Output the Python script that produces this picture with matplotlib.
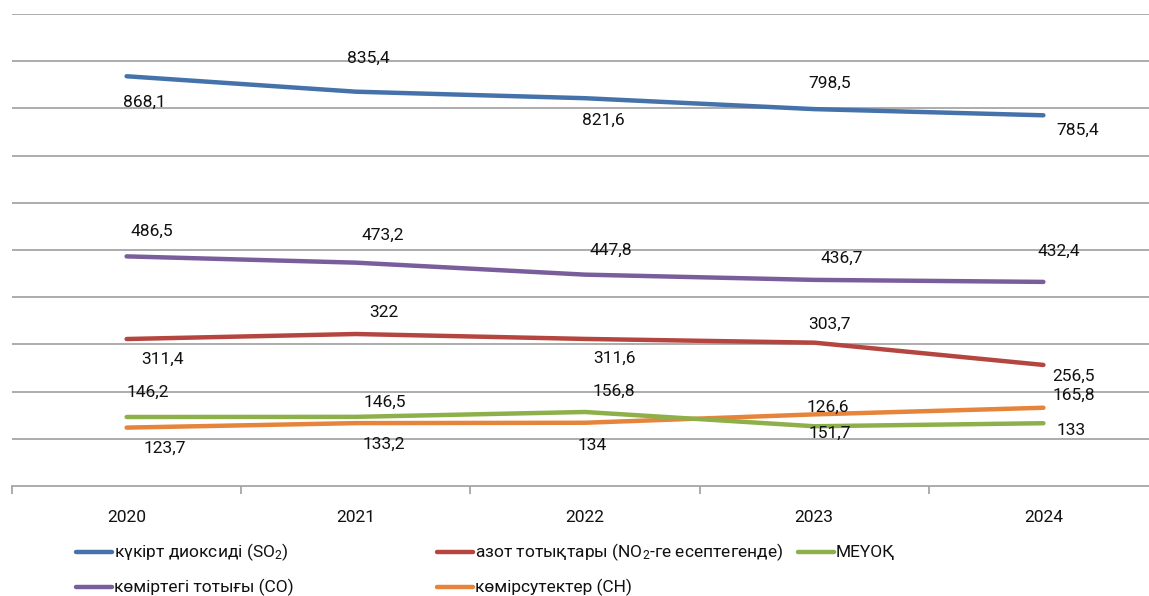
import matplotlib
matplotlib.use("Agg")
import matplotlib.pyplot as plt
from matplotlib.lines import Line2D

plt.rcParams['font.family'] = ['Roboto', 'DejaVu Sans']
plt.rcParams['mathtext.fontset'] = 'custom'
plt.rcParams['mathtext.rm'] = 'Roboto'
plt.rcParams['mathtext.it'] = 'Roboto'
plt.rcParams['mathtext.default'] = 'regular'

years = ["2020", "2021", "2022", "2023", "2024"]
so2 = [868.1, 835.4, 821.6, 798.5, 785.4]
co = [486.5, 473.2, 447.8, 436.7, 432.4]
no2 = [311.4, 322, 311.6, 303.7, 256.5]
meuok = [146.2, 146.5, 156.8, 126.6, 133]
ch = [123.7, 133.2, 134, 151.7, 165.8]

names = ["күкірт диоксиді (SO$_2$)", "көміртегі тотығы (CO)",
         "азот тотықтары (NO$_2$-ге есептегенде)", "көмірсутектер (CH)", "МЕҮОҚ"]
colors = ["#4572AA", "#7A5E9C", "#B4463F", "#E5843A", "#8DB04B"]
# legend slots (pixel x of handle start, pixel y of row)
leg_pos = [(76, 552), (76, 587), (437, 552), (437, 587), (798, 552)]

# label offsets in pixels (dx, dy) per point
offs = {
    "so2": [(18, -26), (13, 33), (18, -22), (15, 26), (34, -15)],
    "co": [(25, 25), (27, 27), (26, 24), (28, 22), (15, 31)],
    "no2": [(36, -20), (28, 22), (29, -19), (15, 18), (30, -11)],
    "meuok": [(21, 25), (29, 15), (29, 21), (14, 19), (28, -7)],
    "ch": [(38, -21), (28, -21), (7, -23), (16, -19), (30, 12)],
}

W, H = 1149, 596
fig = plt.figure(figsize=(W / 100, H / 100), dpi=100)
ax = fig.add_axes([12 / W, (H - 486) / H, 1146 / W, (486 - 14) / H])
ax.set_xlim(-0.5, 4.5)
ax.set_ylim(0, 1000)

for y in range(100, 1001, 100):
    ax.axhline(y, color="#A6A6A6", lw=1.3, zorder=1)

x = list(range(len(years)))
series = [("so2", so2, colors[0]), ("co", co, colors[1]), ("no2", no2, colors[2]),
          ("ch", ch, colors[3]), ("meuok", meuok, colors[4])]
for key, vals, c in series:
    ax.plot(x, vals, color=c, lw=3.2, solid_capstyle="round", solid_joinstyle="round", zorder=3)
    for i, v in enumerate(vals):
        s = ("%g" % v).replace(".", ",")
        dx, dy = offs[key][i]
        ax.annotate(s, (i, v), xytext=(dx, dy), textcoords="offset pixels",
                    ha="center", va="center", fontsize=12.5, color="#111111", zorder=4)

for sp in ["top", "right", "left"]:
    ax.spines[sp].set_visible(False)
ax.spines["bottom"].set_color("#A6A6A6")
ax.spines["bottom"].set_linewidth(1.3)
ax.set_yticks([])
ax.set_xticks(x)
ax.set_xticklabels(years, fontsize=12.5, color="#111111")
ax.tick_params(axis="x", which="major", length=0, pad=17)
ax.set_xticks([i - 0.5 for i in range(len(years) + 1)], minor=True)
ax.tick_params(axis="x", which="minor", length=6, color="#A6A6A6", width=1.3)

# legend (manual placement)
for (px, py), name, c in zip(leg_pos, names, colors):
    yf = 1 - py / H
    fig.add_artist(Line2D([px / W, (px + 36) / W], [yf, yf], transform=fig.transFigure,
                          color=c, lw=3.2, solid_capstyle="round"))
    fig.text((px + 38) / W, yf, name, ha="left", va="center", fontsize=12.5, color="#111111")

fig.savefig("out.png", dpi=100)
